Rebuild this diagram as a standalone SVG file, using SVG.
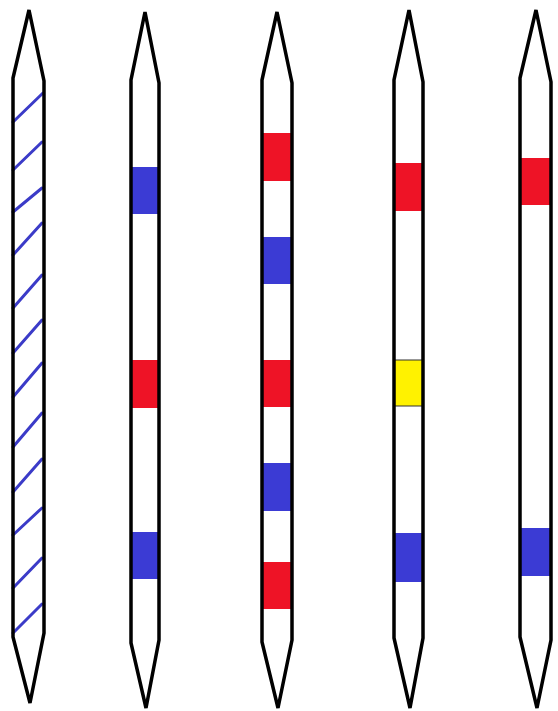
<svg xmlns="http://www.w3.org/2000/svg" width="558" height="711" viewBox="0 0 558 711">
<style>
.stick{fill:none;stroke:#000;stroke-width:3.5;stroke-linejoin:miter;stroke-linecap:round}
.b{fill:#3b3bd4}
.r{fill:#ee1326}
.y{fill:#fff200;stroke:#333;stroke-width:1}
.h{stroke:#3b3bc8;stroke-width:3;stroke-linecap:round}
</style>
<rect width="558" height="711" fill="#fff"/>
<g id="stick1">
<g class="h">
<line x1="13" y1="122" x2="43" y2="93"/>
<line x1="13" y1="170" x2="42" y2="142"/>
<line x1="13" y1="212" x2="42" y2="188"/>
<line x1="13" y1="255" x2="42" y2="223"/>
<line x1="13" y1="308" x2="42" y2="275"/>
<line x1="13" y1="353" x2="42" y2="320"/>
<line x1="13" y1="397" x2="42" y2="363"/>
<line x1="13" y1="447" x2="42" y2="413"/>
<line x1="13" y1="492" x2="42" y2="459"/>
<line x1="13" y1="535" x2="42" y2="508"/>
<line x1="13" y1="588" x2="42" y2="558"/>
<line x1="13" y1="633" x2="42" y2="604"/>
</g>
<path class="stick" d="M13,637 L13,78 L29,10 L44,81 L44,633 L30,703 Z"/>
</g>
<g id="stick2">
<rect class="b" x="131" y="167" width="28" height="47"/>
<rect class="r" x="131" y="360" width="28" height="48"/>
<rect class="b" x="131" y="532" width="28" height="47"/>
<path class="stick" d="M131,643 L131,80 L145,12 L159,83 L159,640 L146,708 Z"/>
</g>
<g id="stick3">
<rect class="r" x="262" y="133" width="30" height="48"/>
<rect class="b" x="262" y="237" width="30" height="47"/>
<rect class="r" x="262" y="360" width="30" height="47"/>
<rect class="b" x="262" y="463" width="30" height="48"/>
<rect class="r" x="262" y="562" width="30" height="47"/>
<path class="stick" d="M262,642 L262,80 L277,12 L292,83 L292,640 L278,708 Z"/>
</g>
<g id="stick4">
<rect class="r" x="394" y="163" width="29" height="48"/>
<rect class="y" x="394.5" y="360" width="28" height="46"/>
<rect class="b" x="394" y="533" width="29" height="49"/>
<path class="stick" d="M394,638 L394,80 L409,10 L423,82 L423,638 L410,708 Z"/>
</g>
<g id="stick5">
<rect class="r" x="520" y="158" width="31" height="47"/>
<rect class="b" x="520" y="528" width="31" height="48"/>
<path class="stick" d="M520,637 L520,78 L536,10 L551,82 L551,640 L537,708 Z"/>
</g>
</svg>
